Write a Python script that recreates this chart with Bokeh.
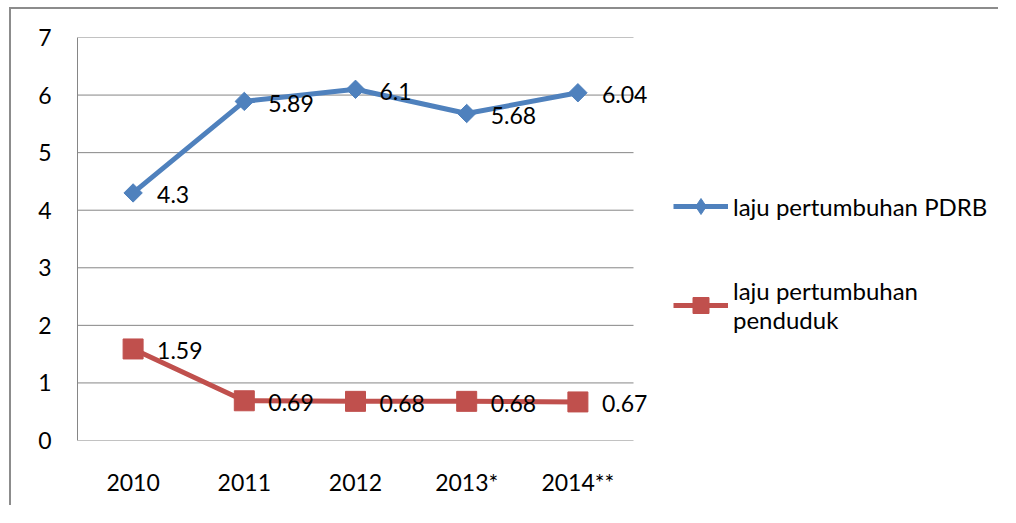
import numpy as np
from bokeh.plotting import figure
from bokeh.models import (ColumnDataSource, Range1d, Legend, LegendItem, FixedTicker,
                          LabelSet)
from bokeh.core.properties import value
from bokeh.embed import file_html
from bokeh.resources import INLINE

years = ["2010", "2011", "2012", "2013*", "2014**"]
pdrb = [4.3, 5.89, 6.1, 5.68, 6.04]
penduduk = [1.59, 0.69, 0.68, 0.68, 0.67]
pdrb_labels = ["4.3", "5.89", "6.1", "5.68", "6.04"]
penduduk_labels = ["1.59", "0.69", "0.68", "0.68", "0.67"]
y_ticks = [0, 1, 2, 3, 4, 5, 6, 7]
series_names = ["laju pertumbuhan PDRB", "laju pertumbuhan\npenduduk"]

FONT = "Lato"
BLUE = "#4F81BD"
RED = "#C0504D"
GRID = "#868686"

# category positions (centres of equal-width category bands)
xpos = [i + 0.5 for i in range(len(years))]
n_cat = len(years)

FRAME_W = 923          # screen px of plot frame
CAT_W = 111.2          # screen px per category band

p = figure(width=989, height=498, output_backend="svg", toolbar_location=None,
           x_range=Range1d(0, FRAME_W / CAT_W), y_range=Range1d(0, 7),
           min_border_left=66, min_border_right=0, min_border_top=28, min_border_bottom=67)
p.styles = {"margin-left": "11px", "margin-top": "9px",
            "box-shadow": "-2px -2px 0 0 #8c8c8c"}
p.extra_y_ranges = {"legend_only": Range1d(-100, -90)}
p.outline_line_color = None
p.xgrid.grid_line_color = None
p.ygrid.grid_line_color = None

p.xaxis.ticker = FixedTicker(ticks=xpos)
p.xaxis.major_label_overrides = {x: y for x, y in zip(xpos, years)}
p.yaxis.ticker = FixedTicker(ticks=y_ticks)

for ax in (p.xaxis[0], p.yaxis[0]):
    ax.major_tick_line_color = None
    ax.minor_tick_line_color = None
    ax.major_label_text_font = FONT
    ax.major_label_text_font_size = "23px"
    ax.major_label_text_color = "black"
p.xaxis.axis_line_color = None
p.yaxis.axis_line_color = GRID
p.yaxis.axis_line_width = 1
p.yaxis.major_label_standoff = 20
p.xaxis.major_label_standoff = 21

# horizontal gridlines spanning only the category area
grid_src = ColumnDataSource(dict(x0=[0] * len(y_ticks), x1=[n_cat] * len(y_ticks), y=y_ticks))
p.segment(x0="x0", y0="y", x1="x1", y1="y", source=grid_src, line_color=GRID, line_width=1)

src1 = ColumnDataSource(dict(x=xpos, y=pdrb, t=pdrb_labels))
src2 = ColumnDataSource(dict(x=xpos, y=penduduk, t=penduduk_labels))

l1 = p.line("x", "y", source=src1, line_color=BLUE, line_width=5)
m1 = p.scatter("x", "y", source=src1, marker="square", angle=np.pi / 4, size=13,
               fill_color=BLUE, line_color=BLUE)
l2 = p.line("x", "y", source=src2, line_color=RED, line_width=5)
m2 = p.scatter("x", "y", source=src2, marker="square", size=20,
               fill_color=RED, line_color=RED)

# marker renderers on an out-of-view range: they only supply the legend swatches
lg1 = p.scatter("x", "y", source=src1, marker="diamond", size=13, y_range_name="legend_only",
                fill_color=BLUE, line_color=BLUE)
lg2 = p.scatter("x", "y", source=src2, marker="square", size=20, y_range_name="legend_only",
                fill_color=RED, line_color=RED)

for s in (src1, src2):
    lab = LabelSet(x="x", y="y", text="t", source=s, x_offset=24, y_offset=-2,
                   text_font=value(FONT), text_font_size="23px", text_color="black",
                   text_baseline="middle", text_align="left")
    p.add_layout(lab)

legend = Legend(items=[
    LegendItem(label=series_names[0], renderers=[l1, lg1]),
    LegendItem(label=series_names[1], renderers=[l2, lg2]),
], location=(596, 106))
legend.label_text_font = FONT
legend.label_text_font_size = "24px"
legend.label_text_line_height = 1.4
legend.label_text_color = "black"
legend.glyph_width = 55
legend.glyph_height = 40
legend.label_standoff = 5
legend.spacing = 50
legend.border_line_color = None
legend.background_fill_alpha = 0
legend.padding = 0
legend.margin = 0
p.add_layout(legend, "center")

open("out.html", "w").write(file_html(p, INLINE))
